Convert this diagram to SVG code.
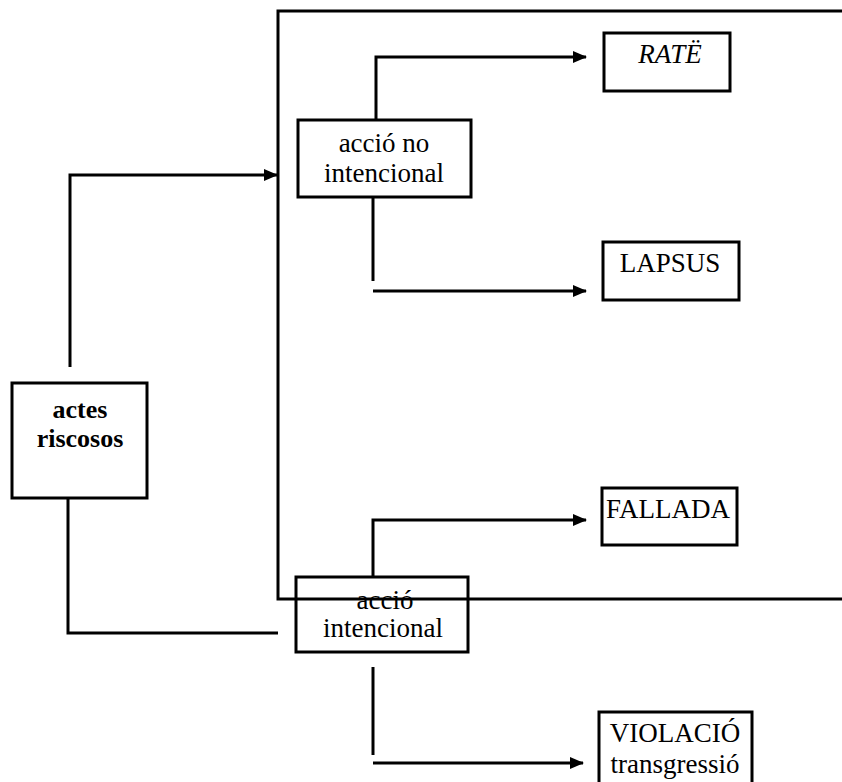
<svg xmlns="http://www.w3.org/2000/svg" width="842" height="782" viewBox="0 0 842 782">
<defs>
<style>
.box{fill:none;stroke:#000;stroke-width:3}
.ln{fill:none;stroke:#000;stroke-width:3}
text{font-family:'Liberation Serif','DejaVu Serif',serif;font-size:27px;fill:#000;text-anchor:middle}
.b{font-weight:bold;font-size:26px}
.i{font-style:italic}
</style>
<marker id="ah" markerWidth="14" markerHeight="12" refX="13" refY="6" orient="auto" markerUnits="userSpaceOnUse">
<path d="M0,0 L14,6 L0,12 Z" fill="#000"/>
</marker>
</defs>
<rect width="842" height="782" fill="#fff"/>
<g id="frame">
<path class="box" d="M850,11 L278,11 L278,599 L850,599"/>
</g>
<g id="connectors">
<path class="ln" d="M70,367 L70,175 L277,175" marker-end="url(#ah)"/>
<path class="ln" d="M68,498 L68,633 L278,633"/>
<path class="ln" d="M376,120 L376,57 L586,57" marker-end="url(#ah)"/>
<path class="ln" d="M373,197 L373,281"/>
<path class="ln" d="M373,291 L586,291" marker-end="url(#ah)"/>
<path class="ln" d="M373,577 L373,520 L586,520" marker-end="url(#ah)"/>
<path class="ln" d="M373,667 L373,755"/>
<path class="ln" d="M373,763 L583,763" marker-end="url(#ah)"/>
</g>
<g id="actes">
<rect class="box" x="12" y="383" width="135" height="115"/>
<text class="b" x="80" y="418" font-family="Liberation Serif, serif">actes</text>
<text class="b" x="80" y="447" font-family="Liberation Serif, serif">riscosos</text>
</g>
<g id="accio-no-intencional">
<rect class="box" x="298" y="120" width="173" height="77"/>
<text x="384" y="152" font-family="Liberation Serif, serif">acció no</text>
<text x="384" y="182" font-family="Liberation Serif, serif">intencional</text>
</g>
<g id="rate">
<rect class="box" x="604" y="33" width="126" height="58"/>
<text class="i" x="670" y="63" font-family="Liberation Serif, serif">RATË</text>
</g>
<g id="lapsus">
<rect class="box" x="603" y="242" width="136" height="58"/>
<text x="670" y="272" font-family="Liberation Serif, serif">LAPSUS</text>
</g>
<g id="fallada">
<rect class="box" x="602" y="488" width="135" height="57"/>
<text x="668" y="518" font-family="Liberation Serif, serif">FALLADA</text>
</g>
<g id="accio-intencional">
<rect class="box" x="296" y="577" width="172" height="75"/>
<text x="385" y="609" font-family="Liberation Serif, serif">acció</text>
<text x="383" y="637" font-family="Liberation Serif, serif">intencional</text>
</g>
<g id="violacio">
<rect class="box" x="599" y="712" width="153" height="80"/>
<text x="675" y="742" font-family="Liberation Serif, serif">VIOLACIÓ</text>
<text x="675" y="773" font-family="Liberation Serif, serif">transgressió</text>
</g>
</svg>
